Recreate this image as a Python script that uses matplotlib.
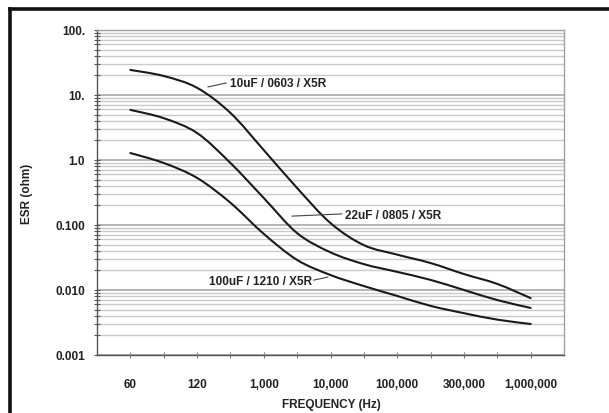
import numpy as np
import matplotlib
matplotlib.use("Agg")
import matplotlib.pyplot as plt
from matplotlib.lines import Line2D
from matplotlib.path import Path
from matplotlib.patches import PathPatch
from matplotlib.ticker import LogLocator, FixedLocator, NullFormatter

# category axis: 13 equally spaced frequency slots, every other one labelled
freq_labels = ["60", "120", "1,000", "10,000", "100,000", "300,000", "1,000,000"]
slots = np.arange(1, 14)

# ESR (ohm) at each slot
esr_10uF_0603 = [24.3, 19.6, 12.9, 5.3, 1.42, 0.37, 0.107, 0.049, 0.035, 0.026, 0.0176, 0.0124, 0.0075]
esr_22uF_0805 = [5.9, 4.4, 2.6, 0.9, 0.26, 0.075, 0.038, 0.025, 0.019, 0.0143, 0.0100, 0.0070, 0.0053]
esr_100uF_1210 = [1.28, 0.9, 0.53, 0.22, 0.073, 0.029, 0.017, 0.0115, 0.0081, 0.0057, 0.0044, 0.0035, 0.0030]

series_names = ["10uF / 0603 / X5R", "22uF / 0805 / X5R", "100uF / 1210 / X5R"]

plt.rcParams['font.family'] = ['Liberation Sans', 'DejaVu Sans']


def smooth_path(xs, ys):
    """Smoothed line like a spreadsheet 'smoothed line': bezier segments
    through the data points, built in (x, log y) space."""
    x = np.asarray(xs, float)
    ly = np.log10(np.asarray(ys, float))
    pts = np.column_stack([x, ly])
    ext = np.vstack([pts[0], pts, pts[-1]])
    verts = [pts[0]]
    codes = [Path.MOVETO]
    for i in range(len(pts) - 1):
        p0, p1, p2, p3 = ext[i], ext[i + 1], ext[i + 2], ext[i + 3]
        verts += [p1 + (p2 - p0) / 6, p2 - (p3 - p1) / 6, p2]
        codes += [Path.CURVE4] * 3
    verts = np.array(verts)
    verts[:, 1] = 10 ** verts[:, 1]
    return Path(verts, codes)


fig = plt.figure(figsize=(6.09, 4.14), dpi=100)
ax = fig.add_axes([97 / 609, 1 - 356 / 414, 467 / 609, 325 / 414])

ax.set_yscale('log')
ax.set_ylim(0.001, 100)
ax.set_xlim(0, 14)

for vals in (esr_10uF_0603, esr_22uF_0805, esr_100uF_1210):
    ax.add_patch(PathPatch(smooth_path(slots, vals), fill=False, edgecolor='#1a1a1a',
                           lw=1.5, capstyle='round', joinstyle='round', zorder=3))

# y ticks / grid
ax.yaxis.set_minor_locator(LogLocator(base=10, subs=np.arange(2, 10), numticks=20))
ax.yaxis.set_minor_formatter(NullFormatter())
ax.set_yticks([0.001, 0.01, 0.1, 1, 10, 100])
ax.set_yticklabels(["0.001", "0.010", "0.100", "1.0", "10.", "100."])
ax.grid(True, which='minor', axis='y', color='#cacaca', lw=1.0, zorder=0)
ax.grid(True, which='major', axis='y', color='#b4b4b4', lw=1.4, zorder=0)

# x ticks
ax.set_xticks(slots[::2])
ax.set_xticklabels(freq_labels)
ax.xaxis.set_minor_locator(FixedLocator(slots[1::2]))

ax.tick_params(axis='y', which='both', direction='inout', length=5, width=0.8, color='#555555',
               labelsize=8.5, pad=6)
ax.tick_params(axis='x', which='both', direction='inout', length=5, width=0.8, color='#777777',
               labelsize=8.5, pad=14)
for lab in ax.get_xticklabels() + ax.get_yticklabels():
    lab.set_fontweight('bold')
    lab.set_color('#222222')

for side in ('left', 'bottom'):
    ax.spines[side].set_color('#555555')
    ax.spines[side].set_linewidth(1.0)
for side in ('top', 'right'):
    ax.spines[side].set_color('#a0a0a0')
    ax.spines[side].set_linewidth(1.0)

ax.set_xlabel("FREQUENCY (Hz)", fontsize=8.5, fontweight='bold', color='#222222')
ax.set_ylabel("ESR (ohm)", fontsize=8.5, fontweight='bold', color='#222222')
ax.yaxis.set_label_coords(-64 / 467, 0.5)
ax.xaxis.set_label_coords(0.502, -43 / 325)

# curve labels with short leader lines
label_pos = [(3.99, 15.3), (7.43, 0.143), (6.44, 0.0138)]
leader_start = [(3.33, 13.3), (5.85, 0.137), (6.50, 0.0142)]
leader_end = [(3.87, 15.3), (7.34, 0.148), (6.92, 0.0158)]
aligns = ['left', 'left', 'right']
for name, pos, a, b, ha in zip(series_names, label_pos, leader_start, leader_end, aligns):
    ax.plot([a[0], b[0]], [a[1], b[1]], color='#444444', lw=0.8, zorder=4)
    ax.text(pos[0], pos[1], name, ha=ha, va='center', fontsize=8.5, fontweight='bold',
            color='#222222', zorder=5)

# thick outer frame (top and left edges visible in the crop)
fig.add_artist(Line2D([10 / 609, 10 / 609], [0, 1 - 9.5 / 414], color='#111111', lw=2.6,
                      transform=fig.transFigure, solid_capstyle='projecting'))
fig.add_artist(Line2D([10 / 609, 1], [1 - 9.5 / 414, 1 - 9.5 / 414], color='#111111', lw=2.6,
                      transform=fig.transFigure, solid_capstyle='projecting'))

fig.savefig("out.png", dpi=100)
